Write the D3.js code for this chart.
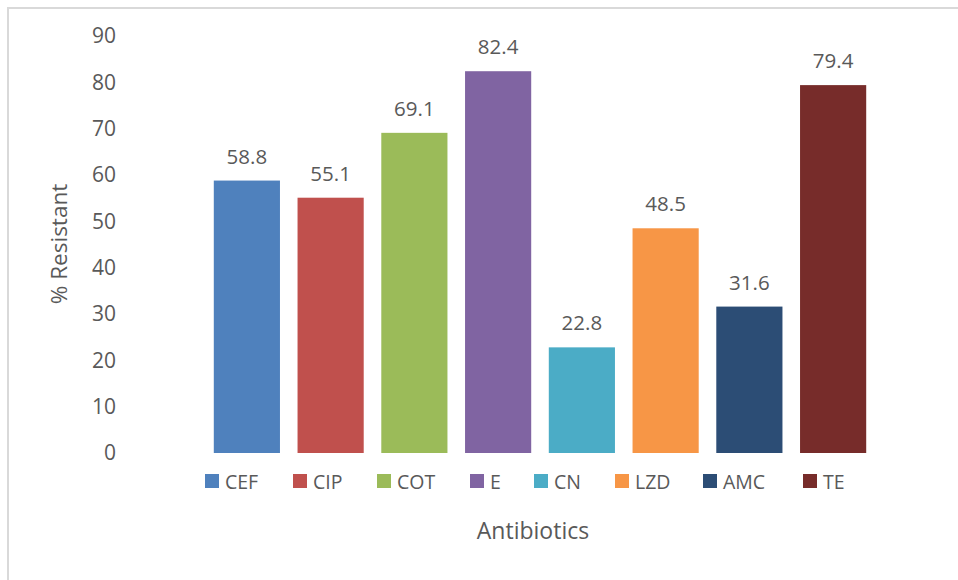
<!DOCTYPE html>
<html lang="en">
<head>
    <meta charset="UTF-8">
    <script src="https://d3js.org/d3.v7.min.js"></script>
    <style>
        body { margin: 0; background: #fff; }
        text { font-family: "Open Sans", sans-serif; fill: #595959; }
    </style>
</head>
<body>
    <svg id="chart" width="958" height="580"></svg>
    <script>
        // Antibiotic resistance data
        const antibiotics = ["CEF", "CIP", "COT", "E", "CN", "LZD", "AMC", "TE"];
        const resistant = [58.8, 55.1, 69.1, 82.4, 22.8, 48.5, 31.6, 79.4];
        const colors = ["#4f81bd", "#c0504d", "#9bbb59", "#8064a2", "#4bacc6", "#f79646", "#2c4d75", "#772c2a"];
        const yTicks = [0, 10, 20, 30, 40, 50, 60, 70, 80, 90];

        const data = antibiotics.map((a, i) => ({ name: a, value: resistant[i], color: colors[i] }));

        const width = 958, height = 580;
        const svg = d3.select("#chart");

        // chart border
        svg.append("rect")
            .attr("x", 8).attr("y", 8)
            .attr("width", width + 10).attr("height", height + 10)
            .attr("fill", "none")
            .attr("stroke", "#d9d9d9")
            .attr("stroke-width", 2);

        const x = d3.scaleBand()
            .domain(antibiotics)
            .range([205, 875])
            .paddingInner(0.21)
            .paddingOuter(0.105);

        const y = d3.scaleLinear()
            .domain([0, 90])
            .range([453, 36]);

        // Y axis (labels only)
        const yAxis = svg.append("g")
            .attr("transform", "translate(116,0)")
            .call(d3.axisLeft(y).tickValues(yTicks).tickSize(0).tickPadding(0));
        yAxis.select(".domain").remove();
        yAxis.selectAll("text")
            .style("font-size", "21px")
            .attr("font-family", null)
            .attr("fill", null);

        svg.append("text")
            .attr("transform", "translate(67,244) rotate(-90)")
            .attr("text-anchor", "middle")
            .style("font-size", "22.5px")
            .text("% Resistant");

        // bars
        svg.selectAll(".bar")
            .data(data)
            .enter().append("rect")
            .attr("class", "bar")
            .attr("x", d => x(d.name))
            .attr("y", d => y(d.value))
            .attr("width", x.bandwidth())
            .attr("height", d => y(0) - y(d.value))
            .attr("fill", d => d.color);

        // value labels
        svg.selectAll(".label")
            .data(data)
            .enter().append("text")
            .attr("class", "label")
            .attr("x", d => x(d.name) + x.bandwidth() / 2)
            .attr("y", d => y(d.value) - 17)
            .attr("text-anchor", "middle")
            .style("font-size", "20.5px")
            .text(d => d.value.toFixed(1));

        // legend
        const legendX = [205, 293, 377, 470, 534, 615, 703, 803];
        const legend = svg.selectAll(".legend")
            .data(data)
            .enter().append("g")
            .attr("class", "legend")
            .attr("transform", (d, i) => `translate(${legendX[i]},474)`);
        legend.append("rect")
            .attr("width", 14).attr("height", 14)
            .attr("fill", d => d.color);
        legend.append("text")
            .attr("x", 20).attr("y", 15)
            .style("font-size", "19.5px")
            .text(d => d.name);

        svg.append("text")
            .attr("x", 533).attr("y", 539)
            .attr("text-anchor", "middle")
            .style("font-size", "23px")
            .text("Antibiotics");
    </script>
</body>
</html>
